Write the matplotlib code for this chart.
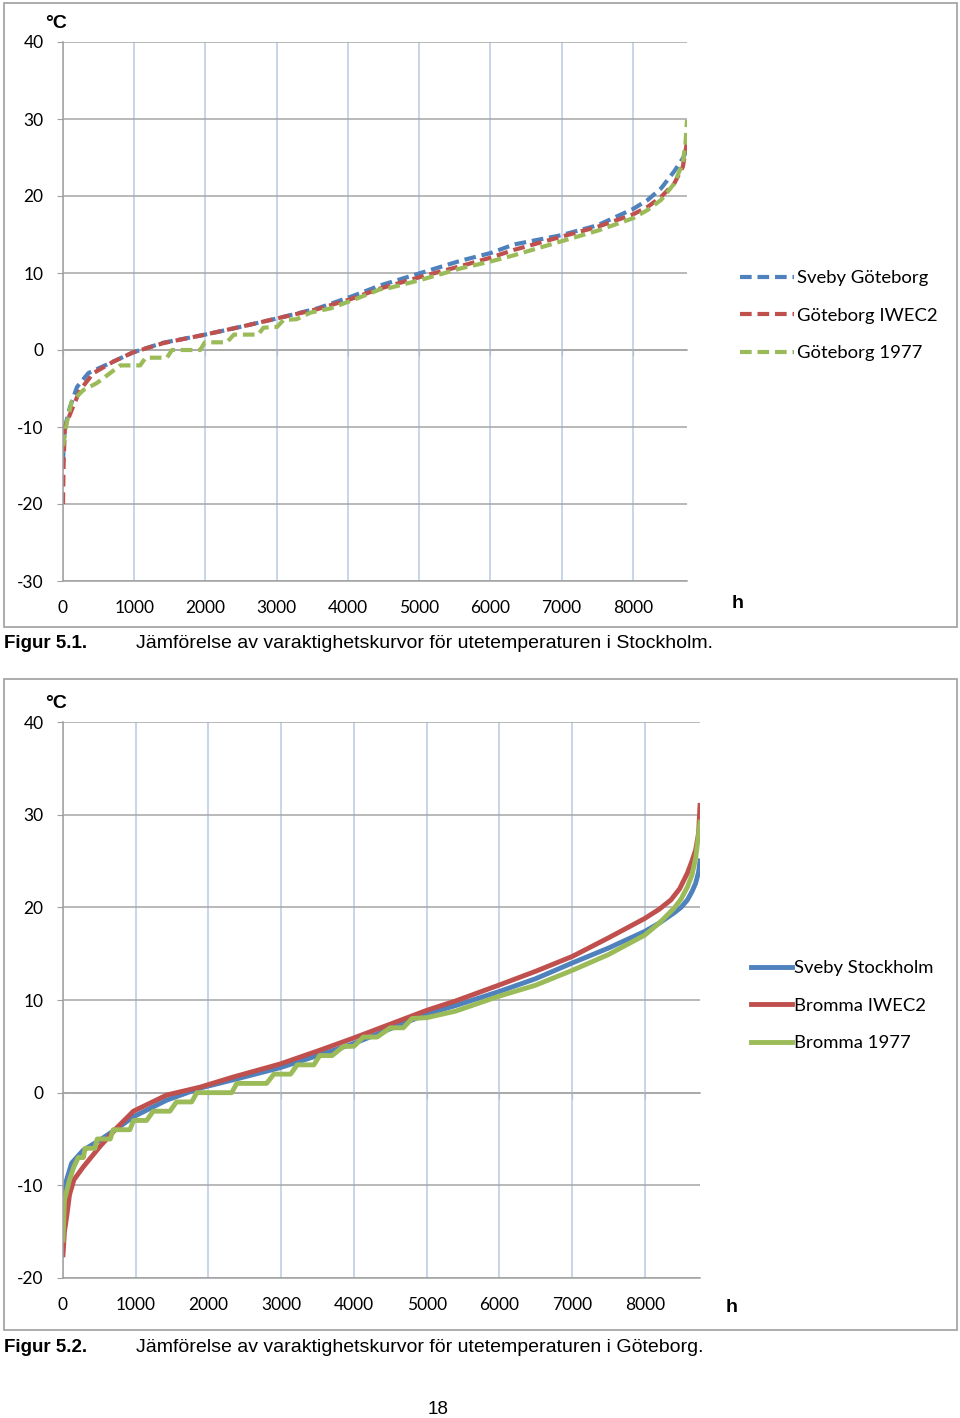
import matplotlib
matplotlib.use("Agg")
import matplotlib.pyplot as plt
from matplotlib.patches import Rectangle

plt.rcParams['axes.unicode_minus'] = False

# Figur 5.1 - Göteborg (varaktighetskurvor, timmar -> temperatur)
gbg_sveby_h = [0, 10, 28, 98, 197, 356, 661, 985, 1410, 1970, 2490, 3005, 3570, 4036,
               4458, 5021, 5584, 6006, 6330, 6990, 7506, 8000, 8210, 8397, 8580, 8702, 8760]
gbg_sveby_t = [-14.7, -12.0, -10.0, -7.4, -4.8, -3.0, -1.7, -0.3, 0.95, 1.95, 3.0, 4.1, 5.4, 6.9,
               8.4, 10.0, 11.6, 12.6, 13.7, 14.9, 16.2, 18.3, 19.5, 21.0, 23.2, 24.9, 26.0]

gbg_iwec_h = [0, 10, 28, 122, 239, 427, 708, 985, 1410, 1970, 2490, 3005, 3570, 4036,
              4458, 5021, 5584, 6006, 6330, 6990, 7506, 8000, 8210, 8397, 8580, 8702, 8760]
gbg_iwec_t = [-20.0, -14.0, -10.0, -7.8, -5.2, -3.0, -1.5, -0.3, 0.9, 1.95, 3.0, 4.1, 5.3, 6.6,
              8.0, 9.5, 10.9, 12.0, 13.0, 14.7, 16.0, 17.6, 18.6, 19.9, 21.6, 23.8, 27.0]

gbg_1977_h = [0, 52, 122, 286, 474, 661, 802, 1083, 1160, 1458, 1530, 1927, 1990, 2300, 2400,
              2740, 2815, 3005, 3096, 3280, 3473, 3755, 4130, 4458, 4600, 5021, 5584, 6006,
              6330, 6990, 7506, 8000, 8210, 8397, 8580, 8702, 8740, 8760]
gbg_1977_t = [-12.5, -9.5, -6.7, -5.2, -4.3, -3.0, -2.0, -2.0, -1.0, -1.0, 0.0, 0.0, 1.0, 1.0, 2.0,
              2.0, 2.9, 3.0, 3.9, 4.0, 4.85, 5.4, 6.7, 7.9, 8.1, 9.1, 10.6, 11.5,
              12.3, 14.1, 15.5, 17.1, 18.2, 19.5, 21.6, 24.3, 27.0, 29.9]

# Figur 5.2 - Stockholm
sth_sveby_h = [0, 20, 50, 119, 280, 509, 739, 968, 1428, 1887, 2346, 2988, 3539, 3998, 5007,
               5400, 5993, 6500, 7004, 7500, 8000, 8200, 8403, 8500, 8587, 8650, 8700, 8740, 8760]
sth_sveby_t = [-11.5, -10.5, -9.4, -7.6, -6.2, -5.1, -3.9, -2.6, -0.8, 0.5, 1.4, 2.7, 4.1, 5.3, 8.5,
               9.4, 10.9, 12.3, 14.0, 15.6, 17.4, 18.3, 19.4, 20.0, 20.8, 21.7, 22.6, 23.8, 25.0]

sth_iwec_h = [0, 20, 50, 90, 150, 280, 509, 739, 968, 1428, 1887, 2346, 2988, 3539, 3998, 5007,
              5400, 5993, 6500, 7004, 7500, 8000, 8200, 8360, 8480, 8587, 8650, 8700, 8740, 8760]
sth_iwec_t = [-17.5, -15.0, -13.4, -11.0, -9.4, -8.0, -5.8, -3.8, -2.0, -0.25, 0.6, 1.7, 3.1, 4.6,
              5.9, 8.9, 9.9, 11.6, 13.1, 14.7, 16.7, 18.8, 19.8, 20.8, 22.0, 23.7, 25.0, 26.2,
              28.0, 31.0]

sth_1977_h = [0, 20, 90, 150, 210, 280, 305, 440, 470, 650, 690, 920, 970, 1150, 1240, 1470,
              1560, 1770, 1840, 2320, 2390, 2800, 2900, 3130, 3220, 3450, 3530, 3700, 3860,
              4000, 4130, 4320, 4500, 4680, 4800, 5007, 5400, 5993, 6500, 7004, 7500, 8000,
              8200, 8403, 8500, 8587, 8650, 8700, 8735, 8760]
sth_1977_t = [-15.9, -11.6, -9.4, -8.0, -7.0, -7.0, -6.0, -6.0, -5.0, -5.0, -4.0, -4.0, -3.0, -3.0,
              -2.0, -2.0, -1.0, -1.0, 0.0, 0.0, 1.0, 1.0, 2.0, 2.0, 3.0, 3.0, 4.0, 4.0, 5.0,
              5.0, 6.0, 6.0, 7.0, 7.0, 8.0, 8.1, 8.8, 10.4, 11.6, 13.2, 14.9, 17.0,
              18.3, 19.9, 20.9, 22.2, 23.5, 25.3, 27.5, 29.2]

x_ticks = [0, 1000, 2000, 3000, 4000, 5000, 6000, 7000, 8000]
y_ticks_top = [-30, -20, -10, 0, 10, 20, 30, 40]
y_ticks_bot = [-20, -10, 0, 10, 20, 30, 40]

BLUE = '#4F81BD'
RED = '#C0504D'
GREEN = '#9BBB59'
FONT = ['Lato', 'DejaVu Sans']
CAPFONT = ['Liberation Sans', 'DejaVu Sans']

W, H = 960, 1418
fig = plt.figure(figsize=(W / 100, H / 100), dpi=100)


def fx(px):
    return px / W


def fy(py):
    return 1 - py / H


def setup_axes(ax, yticks):
    ax.set_xlim(0, 8760)
    ax.set_ylim(yticks[0], yticks[-1])
    ax.set_xticks(x_ticks)
    ax.set_yticks(yticks)
    ax.grid(axis='y', color='#A6A6A6', lw=1.1)
    ax.grid(axis='x', color='#B9C9E1', lw=1.1)
    ax.set_axisbelow(True)
    for s in ['top', 'right']:
        ax.spines[s].set_visible(False)
    for s in ['left', 'bottom']:
        ax.spines[s].set_color('#A0A0A0')
        ax.spines[s].set_linewidth(1.1)
    ax.tick_params(axis='x', length=0, pad=14)
    ax.tick_params(axis='y', length=4, color='#A0A0A0', pad=10)
    for lab in ax.get_xticklabels() + ax.get_yticklabels():
        lab.set_family(FONT)
        lab.set_fontsize(12.5)
    # axeln korsar vid 0 - små streck på nollinjen
    sec = ax.secondary_xaxis(0, transform=ax.transData)
    sec.set_xticks(x_ticks)
    sec.tick_params(length=4, color='#A0A0A0', labelbottom=False)
    sec.spines['bottom'].set_color('#A6A6A6')
    sec.spines['bottom'].set_linewidth(1.1)


leg_kw = dict(bbox_transform=fig.transFigure, loc='upper left', frameon=False, borderpad=0,
              borderaxespad=0, handletextpad=0.15, labelspacing=1.17,
              prop={'family': FONT, 'size': 13.3})

# ---- Figur 5.1 ----
ax1 = fig.add_axes([fx(63), fy(581), fx(687 - 63), (581 - 42) / H])
setup_axes(ax1, y_ticks_top)
dash = (2.8, 1.4)
ax1.plot(gbg_sveby_h, gbg_sveby_t, color=BLUE, lw=3.0, dashes=dash, label='Sveby Göteborg')
ax1.plot(gbg_iwec_h, gbg_iwec_t, color=RED, lw=3.0, dashes=dash, label='Göteborg IWEC2')
ax1.plot(gbg_1977_h, gbg_1977_t, color=GREEN, lw=3.0, dashes=dash, label='Göteborg 1977')
ax1.legend(bbox_to_anchor=(fx(740), fy(270)), handlelength=2.95, **leg_kw)

# ---- Figur 5.2 ----
ax2 = fig.add_axes([fx(63), fy(1278), fx(700 - 63), (1278 - 722) / H])
setup_axes(ax2, y_ticks_bot)
ax2.plot(sth_sveby_h, sth_sveby_t, color=BLUE, lw=3.5, label='Sveby Stockholm')
ax2.plot(sth_iwec_h, sth_iwec_t, color=RED, lw=3.5, label='Bromma IWEC2')
ax2.plot(sth_1977_h, sth_1977_t, color=GREEN, lw=3.5, label='Bromma 1977')
ax2.legend(bbox_to_anchor=(fx(751), fy(960)), handlelength=2.2, **leg_kw)

# enheter
for yy_c, yy_h, xx_h in [(24, 604, 738), (703, 1308, 732)]:
    fig.text(fx(56), fy(yy_c), '°C', ha='center', va='center', fontsize=14, weight='bold',
             family=CAPFONT)
    fig.text(fx(xx_h), fy(yy_h), 'h', ha='center', va='center', fontsize=14, weight='bold',
             family=CAPFONT)

# ramar runt diagrammen
for top, bot in [(3, 627), (679, 1330)]:
    fig.add_artist(Rectangle((fx(4), fy(bot)), fx(957 - 4), (bot - top) / H,
                             transform=fig.transFigure, fill=False, ec='#A6A6A6', lw=1.3))

# figurtexter
fig.text(fx(4), fy(643), 'Figur 5.1.', va='center', fontsize=13.5, weight='bold', family=CAPFONT)
fig.text(fx(136), fy(643), 'Jämförelse av varaktighetskurvor för utetemperaturen i Stockholm.',
         va='center', fontsize=14, family=CAPFONT)
fig.text(fx(4), fy(1347), 'Figur 5.2.', va='center', fontsize=13.5, weight='bold', family=CAPFONT)
fig.text(fx(136), fy(1347), 'Jämförelse av varaktighetskurvor för utetemperaturen i Göteborg.',
         va='center', fontsize=14, family=CAPFONT)
fig.text(fx(438), fy(1409), '18', ha='center', va='center', fontsize=13.5, family=CAPFONT)

fig.savefig('out.png', dpi=100, facecolor='white')
